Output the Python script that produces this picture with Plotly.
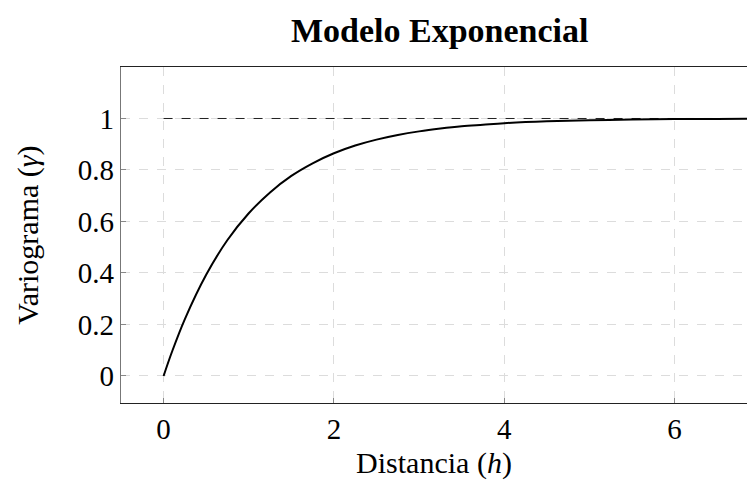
import plotly.graph_objects as go

# Values
h_vals = [0, 0.1, 0.25, 0.5, 0.75, 1.0, 1.25, 1.5, 1.75, 2.0, 2.25, 2.5, 2.75, 3.0,
          3.25, 3.5, 3.75, 4.0, 4.5, 5.0, 5.5, 6.0, 6.5, 7.0]
gamma_vals = [0.0, 0.095, 0.221, 0.393, 0.528, 0.632, 0.713, 0.777, 0.826, 0.865, 0.895,
              0.918, 0.936, 0.950, 0.961, 0.970, 0.976, 0.982, 0.989, 0.993, 0.996,
              0.998, 0.9985, 0.999]
sill_x = [0, 7]
sill_y = [1, 1]
x_ticks = [0, 2, 4, 6]
y_ticks = [0, 0.2, 0.4, 0.6, 0.8, 1]
y_tick_text = ["0", "0.2", "0.4", "0.6", "0.8", "1"]

FONT = "Liberation Serif"

fig = go.Figure()
fig.add_trace(go.Scatter(x=sill_x, y=sill_y, mode="lines",
                         line=dict(color="#222", width=1, dash="dash"), hoverinfo="skip"))
fig.add_trace(go.Scatter(x=h_vals, y=gamma_vals, mode="lines",
                         line=dict(color="black", width=2, shape="spline")))

fig.update_layout(
    width=747, height=480,
    margin=dict(l=121, r=0, t=67, b=77),
    paper_bgcolor="white", plot_bgcolor="white",
    showlegend=False,
    font=dict(family=FONT, size=29, color="black"),
    annotations=[dict(text="<b>Modelo Exponencial</b>", xref="paper", yref="paper",
                      x=0.51, y=1, yshift=37, yanchor="middle", showarrow=False,
                      font=dict(family=FONT, size=34))],
)
fig.update_xaxes(
    range=[-0.5, 6.85], tickvals=x_ticks, ticks="inside", ticklen=5, tickcolor="#888",
    showline=True, linecolor="#222", linewidth=1.2, mirror=True,
    showgrid=True, gridcolor="#dcdcdc", griddash="dash", gridwidth=1,
    zeroline=False, tickfont=dict(size=29),
    title=dict(text="Distancia (<i>h</i>)", font=dict(size=30), standoff=10),
)
fig.update_yaxes(
    range=[-0.105, 1.2], tickvals=y_ticks, ticktext=y_tick_text, ticks="inside", ticklen=5,
    tickcolor="#888", showline=True, linecolor="#777", linewidth=1.2, mirror=True,
    showgrid=True, gridcolor="#dcdcdc", griddash="dash", gridwidth=1,
    zeroline=False, tickfont=dict(size=29),
    title=dict(text="Variograma (<i>γ</i>)", font=dict(size=30), standoff=30),
)

fig.write_html("out.html")
